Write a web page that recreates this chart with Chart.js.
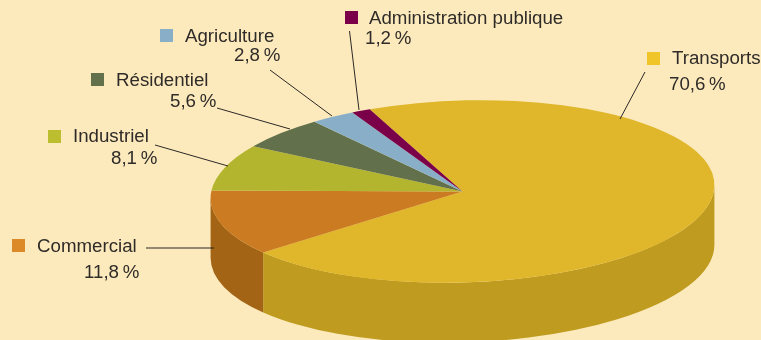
<!DOCTYPE html>
<html lang="fr">
<head>
<meta charset="utf-8">
<title>Répartition par secteur</title>
<script src="https://cdn.jsdelivr.net/npm/chart.js@4/dist/chart.umd.min.js"></script>
<style>
    html, body { margin: 0; padding: 0; background: #fceabd; }
    canvas { display: block; }
</style>
</head>
<body>
<canvas id="sectorChart" width="761" height="340"></canvas>
<script>
const categories = ['Transports', 'Commercial', 'Industriel', 'Résidentiel', 'Agriculture', 'Administration publique'];
const shares = [70.6, 11.8, 8.1, 5.6, 2.8, 1.2];

const topColors = ['#e0b62a', '#cb7c22', '#b4b52f', '#62704b', '#88afc7', '#7a0049'];
const wallColors = ['#bf9c20', '#a36416', '#8f9026', '#4d5a3b', '#6c8c9f', '#5e0038'];
const swatchColors = ['#f0c52a', '#dc8a28', '#bdbd30', '#62704b', '#88afc7', '#7a0049'];

// Label layout: swatch corner, name start, value start, leader line ends
const labelLayout = [
    { box: [647, 52], name: [672, 64], value: [669, 90], line: [645, 72, 620, 119] },
    { box: [12, 239], name: [37, 252], value: [84, 278], line: [146, 248, 214, 248] },
    { box: [48, 130], name: [73, 142], value: [111, 164], line: [155, 145, 228, 166] },
    { box: [91, 73], name: [116, 86], value: [170, 107], line: [217, 108, 290, 129] },
    { box: [160, 29], name: [185, 42], value: [234, 61], line: [270, 70, 332, 116] },
    { box: [345, 11], name: [369, 24], value: [365, 44], line: [349.5, 31, 359, 110] }
];

const squash = 91 / 252;
const tilt = -0.03;
const depth = 60;
// angle on the rim where the disc reaches its far right, the wall starts there
const rimStart = Math.atan(squash * Math.tan(-tilt));

function formatShare(v) {
    return v.toFixed(1).replace('.', ',') + '\u2009%';
}

// Squashes the round pie into a tilted disc and adds the side wall under it
const tiltedDisc = {
    id: 'tiltedDisc',
    beforeDatasetsDraw(chart) {
        const ctx = chart.ctx;
        const arcs = chart.getDatasetMeta(0).data;
        const cx = arcs[0].x;
        const cy = arcs[0].y;

        arcs.forEach((arc, i) => {
            const rx = arc.outerRadius;
            const ry = rx * squash;
            ctx.fillStyle = wallColors[i];
            // only the front half of the rim is visible
            [-2, 0, 2].forEach(turn => {
                const a = Math.max(arc.startAngle + turn * Math.PI, rimStart);
                const b = Math.min(arc.endAngle + turn * Math.PI, Math.PI + rimStart);
                if (b <= a) return;
                ctx.beginPath();
                ctx.ellipse(cx, cy, rx, ry, tilt, a, b);
                ctx.ellipse(cx, cy + depth, rx, ry, tilt, b, a, true);
                ctx.closePath();
                ctx.fill();
            });
        });

        ctx.save();
        ctx.translate(cx, cy);
        ctx.rotate(tilt);
        ctx.scale(1, squash);
        ctx.translate(-cx, -cy);
    },
    afterDatasetsDraw(chart) {
        const ctx = chart.ctx;
        ctx.restore();

        ctx.save();
        ctx.strokeStyle = '#2b2826';
        ctx.lineWidth = 1;
        ctx.font = '18.7px "Liberation Sans", Arial, sans-serif';
        ctx.textAlign = 'left';
        ctx.textBaseline = 'alphabetic';
        categories.forEach((name, i) => {
            const spot = labelLayout[i];
            ctx.fillStyle = swatchColors[i];
            ctx.fillRect(spot.box[0], spot.box[1], 13, 13);

            ctx.beginPath();
            ctx.moveTo(spot.line[0], spot.line[1]);
            ctx.lineTo(spot.line[2], spot.line[3]);
            ctx.stroke();

            ctx.fillStyle = '#2f2b28';
            ctx.fillText(name, spot.name[0], spot.name[1]);
            ctx.fillText(formatShare(shares[i]), spot.value[0], spot.value[1]);
        });
        ctx.restore();
    }
};

new Chart(document.getElementById('sectorChart').getContext('2d'), {
    type: 'pie',
    data: {
        labels: categories,
        datasets: [{
            data: shares,
            backgroundColor: topColors,
            borderWidth: 0,
            clip: false
        }]
    },
    options: {
        responsive: false,
        animation: false,
        events: [],
        radius: 252,
        rotation: 339,
        layout: { padding: { left: 164, top: 43 } },
        plugins: {
            legend: { display: false },
            tooltip: { enabled: false }
        }
    },
    plugins: [tiltedDisc]
});
</script>
</body>
</html>
